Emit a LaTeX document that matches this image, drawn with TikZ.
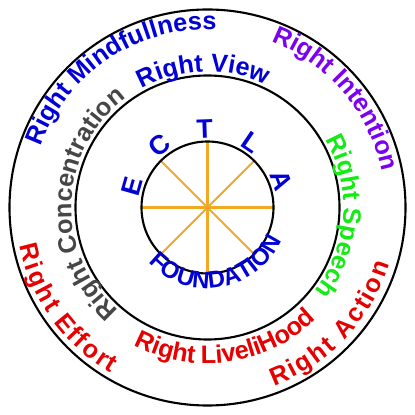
\documentclass[tikz,border=0pt]{standalone}
\usepackage{fontspec}
\setmainfont{Liberation Sans}
\usetikzlibrary{decorations.text}
\definecolor{pathblue}{RGB}{0,0,215}
\definecolor{pathviolet}{RGB}{125,0,240}
\definecolor{pathgreen}{RGB}{20,235,20}
\definecolor{pathgray}{RGB}{70,70,70}
\definecolor{pathred}{RGB}{230,0,0}
\definecolor{spokeorange}{RGB}{245,168,35}
\newcommand{\wordfont}{\bfseries\fontsize{18}{21}\selectfont}
\newcommand{\hubfont}{\bfseries\fontsize{17}{20}\selectfont}

\begin{document}
\begin{tikzpicture}[
    ring/.style={line width=1.5pt},
    spoke/.style={draw=spokeorange, line width=1.5pt},
    letter/.style={font=\bfseries\fontsize{19}{22}\selectfont, text=pathblue, inner sep=0pt, anchor=south},
    onarc/.style 2 args={decorate, decoration={text along path,
        text={|\wordfont\color{#1}|#2}}}
  ]
    \useasboundingbox (-5.1875,-5.1875) rectangle (5.1875,5.1875);
    \coordinate (hub) at (0,0);
    \foreach \a in {0,45,...,315}
      \draw[spoke] (hub) -- (\a:1.65cm);
    \draw[ring] (hub) circle (4.95cm);
    \draw[ring] (hub) circle (3.3cm);
    \draw[ring] (hub) circle (1.65cm);
    % outer track
    \path[onarc={pathblue}{Right Mindfullness}] (160:4.45) arc (160:40:4.45);
    \path[onarc={pathviolet}{Right Intention}] (69:4.45) arc (69:-40:4.45);
    \path[onarc={pathred}{Right Effort}, decoration={raise=-0.72cm}] (191:4.07) arc (191:280:4.07);
    \path[onarc={pathred}{Right Action}, decoration={raise=-0.7cm}] (-70:4.06) arc (-70:20:4.06);
    % inner track
    \path[onarc={pathblue}{Right View}] (119:3.4) arc (119:20:3.4);
    \path[onarc={pathgray}{Right Concentration}] (229:3.4) arc (229:100:3.4);
    \path[onarc={pathgreen}{Right Speech}] (30:3.4) arc (30:-70:3.4);
    \path[onarc={pathred}{Right LiveliHood}, decoration={raise=0.1cm}] (-118:4.0) arc (-118:-10:4.0);
    % hub
    \path[decorate, decoration={text along path,
        text={|\hubfont\color{pathblue}|FOUNDATION}}] (223:2.02) arc (223:350:2.02);
    \node[letter, rotate=74] (e) at (164:1.72) {E};
    \node[letter, rotate=38] (c) at (128:1.72) {C};
    \node[letter, rotate=2] (t) at (92:1.72) {T};
    \node[letter, rotate=-34] (l) at (56:1.72) {L};
    \node[letter, rotate=-70] (a) at (20:1.72) {A};
\end{tikzpicture}
\end{document}
